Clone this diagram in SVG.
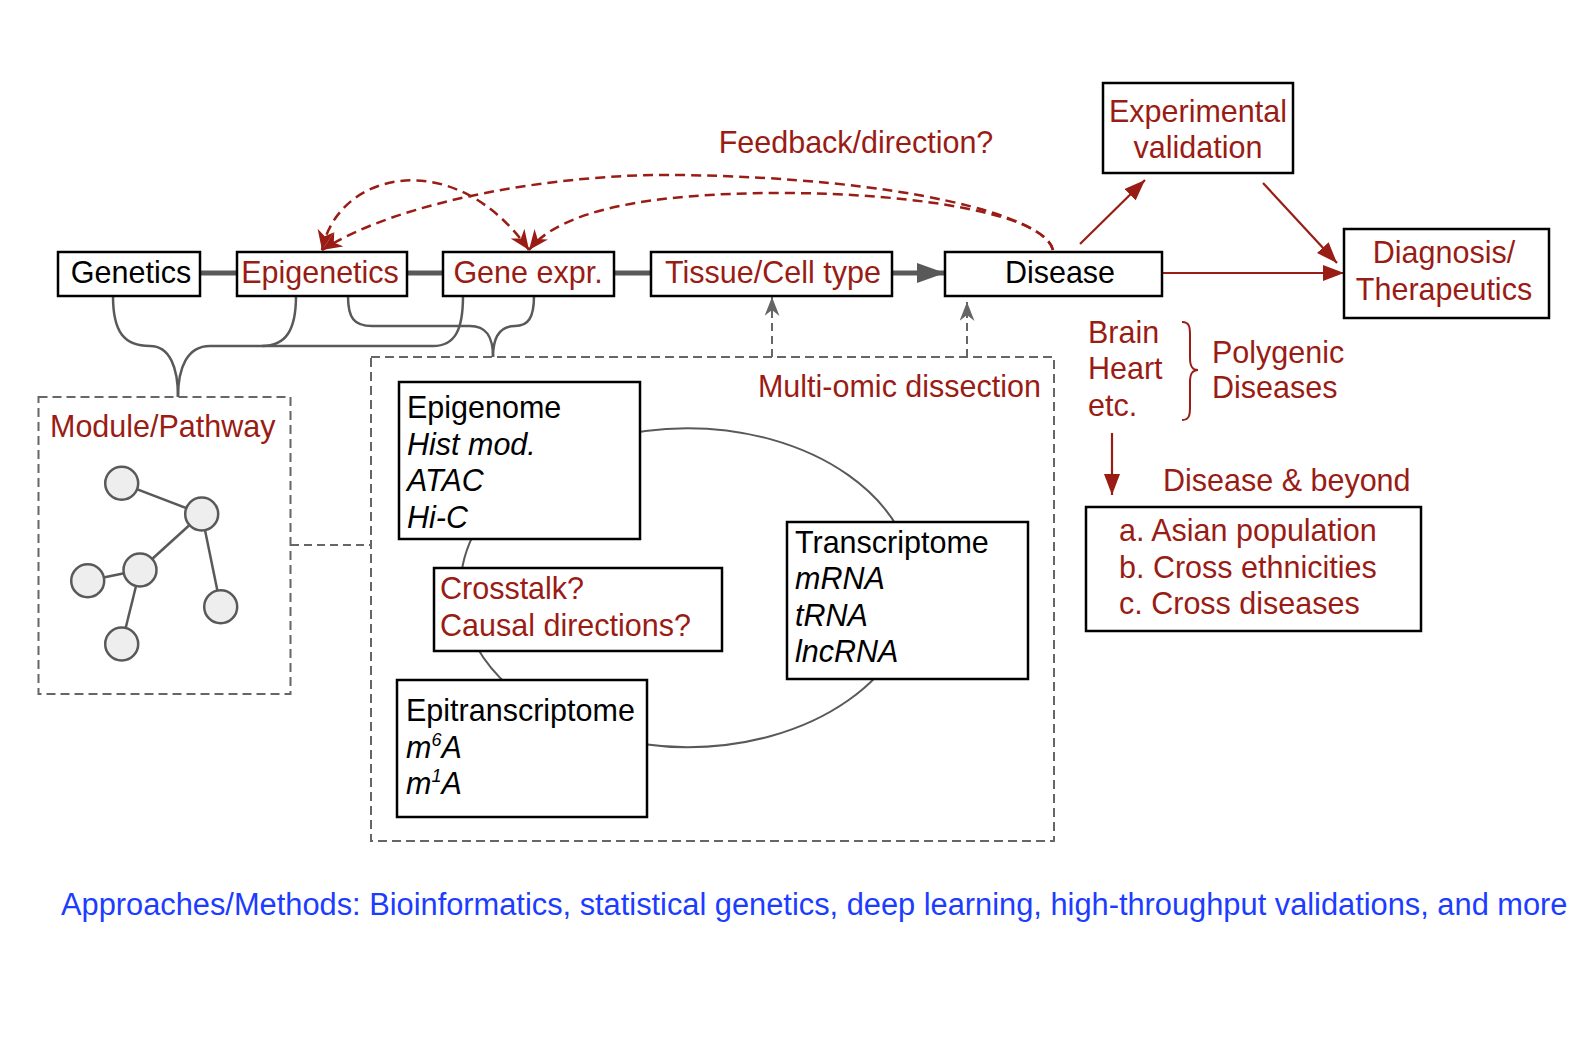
<svg xmlns="http://www.w3.org/2000/svg" width="1592" height="1050" viewBox="0 0 1592 1050">
<style>
  text { font-family: "Liberation Sans", Arial, sans-serif; font-size: 30.5px; }
  .red { fill: #991c15; }
  .blk { fill: #000; }
  .blue { fill: #1c3cff; font-size: 30.8px; }
  .it { font-style: italic; }
  .mid { text-anchor: middle; }
  .box { fill: #fff; stroke: #000; stroke-width: 2.5; }
  .dbox { fill: none; stroke: #666; stroke-width: 2; stroke-dasharray: 9 5; }
  .thick { stroke: #595959; stroke-width: 5; fill: none; }
  .brace { stroke: #595959; stroke-width: 2.5; fill: none; }
  .rdash { stroke: #991c15; stroke-width: 2.5; fill: none; stroke-dasharray: 10 6; }
  .gdash { stroke: #666; stroke-width: 2; fill: none; stroke-dasharray: 8 5; }
  .rline { stroke: #991c15; stroke-width: 2.2; fill: none; }
  .node { fill: #eeeeee; stroke: #595959; stroke-width: 2.5; }
  .edge { stroke: #595959; stroke-width: 2.5; }
</style>
<defs>
  <marker id="redTri" markerUnits="userSpaceOnUse" viewBox="0 0 21 16" refX="21" refY="8" markerWidth="21" markerHeight="16" orient="auto">
    <path d="M0,0 L21,8 L0,16 Z" fill="#991c15"/>
  </marker>
  <marker id="grayTri" markerUnits="userSpaceOnUse" viewBox="0 0 28 20" refX="28" refY="10" markerWidth="28" markerHeight="20" orient="auto">
    <path d="M0,0 L28,10 L0,20 Z" fill="#595959"/>
  </marker>
  <marker id="redStealth" markerUnits="userSpaceOnUse" viewBox="0 0 20 17" refX="20" refY="8.5" markerWidth="20" markerHeight="17" orient="auto-start-reverse">
    <path d="M0,0 L20,8.5 L0,17 L6,8.5 Z" fill="#991c15"/>
  </marker>
  <marker id="grayStealth" markerUnits="userSpaceOnUse" viewBox="0 0 19 15" refX="19" refY="7.5" markerWidth="19" markerHeight="15" orient="auto">
    <path d="M0,0 L19,7.5 L0,15 L6,7.5 Z" fill="#666"/>
  </marker>
</defs>
<rect width="1592" height="1050" fill="#fff"/>

<g id="connectors">
  <!-- main chain -->
  <line class="thick" x1="200" y1="273" x2="237" y2="273"/>
  <line class="thick" x1="407" y1="273" x2="443" y2="273"/>
  <line class="thick" x1="614" y1="273" x2="651" y2="273"/>
  <line class="thick" x1="892" y1="273" x2="945" y2="273" marker-end="url(#grayTri)"/>
  <!-- left brace to Module/Pathway -->
  <path class="brace" d="M113,296 C113,332 124,346 150,346 C170,346 178,368 178,397"/>
  <path class="brace" d="M178,397 C178,368 187,346 210,346 L433,346 C455,346 463,330 463,296"/>
  <path class="brace" d="M296,296 C296,330 286,346 262,346"/>
  <!-- right brace to Multi-omic -->
  <path class="brace" d="M348,296 C348,318 354,326 372,326 L470,326 C486,326 493,336 493,357"/>
  <path class="brace" d="M534,296 C534,318 528,326 515,326 C500,326 493,336 493,357"/>
  <!-- feedback dashed curves -->
  <path class="rdash" d="M1053,250 C1045,215 900,178 680,175 C560,173 400,200 322,250" marker-end="url(#redStealth)"/>
  <path class="rdash" d="M1053,250 C1045,215 920,193 780,193 C650,193 560,210 529,250" marker-end="url(#redStealth)"/>
  <path class="rdash" d="M322,250 C338,170 455,145 529,250" marker-start="url(#redStealth)" marker-end="url(#redStealth)"/>
  <!-- outcome arrows -->
  <line class="rline" x1="1162" y1="273" x2="1344" y2="273" marker-end="url(#redTri)"/>
  <line class="rline" x1="1080" y1="244" x2="1145" y2="180" marker-end="url(#redTri)"/>
  <line class="rline" x1="1263" y1="183" x2="1337" y2="263" marker-end="url(#redTri)"/>
  <line class="rline" x1="1112" y1="433" x2="1112" y2="495" marker-end="url(#redTri)"/>
  <!-- multi-omic up arrows -->
  <line class="gdash" x1="772" y1="357" x2="772" y2="297" marker-end="url(#grayStealth)"/>
  <line class="gdash" x1="967" y1="357" x2="967" y2="302" marker-end="url(#grayStealth)"/>
  <!-- module to multi-omic link -->
  <line class="gdash" x1="291" y1="545" x2="371" y2="545"/>
  <!-- polygenic brace -->
  <path d="M1182,322 C1190,322 1190,328 1190,336 L1190,358 C1190,366 1192,370 1198,370 C1192,370 1190,374 1190,382 L1190,406 C1190,414 1190,420 1182,420" fill="none" stroke="#991c15" stroke-width="2"/>
</g>

<g id="genetics">
  <rect class="box" x="58" y="252" width="142" height="44"/>
  <text class="blk mid" x="131" y="283">Genetics</text>
</g>
<g id="epigenetics">
  <rect class="box" x="237" y="252" width="170" height="44"/>
  <text class="red mid" x="320" y="283">Epigenetics</text>
</g>
<g id="gene-expr">
  <rect class="box" x="443" y="252" width="171" height="44"/>
  <text class="red mid" x="528" y="283">Gene expr.</text>
</g>
<g id="tissue">
  <rect class="box" x="651" y="252" width="241" height="44"/>
  <text class="red mid" x="773" y="283">Tissue/Cell type</text>
</g>
<g id="disease">
  <rect class="box" x="945" y="252" width="217" height="44"/>
  <text class="blk mid" x="1060" y="283">Disease</text>
</g>
<g id="experimental-validation">
  <rect class="box" x="1103" y="83" width="190" height="90"/>
  <text class="red mid" x="1198" y="122">Experimental</text>
  <text class="red mid" x="1198" y="158">validation</text>
</g>
<g id="diagnosis">
  <rect class="box" x="1344" y="229" width="205" height="89"/>
  <text class="red mid" x="1444" y="263">Diagnosis/</text>
  <text class="red mid" x="1444" y="300">Therapeutics</text>
</g>
<g id="feedback-label">
  <text class="red mid" x="856" y="153">Feedback/direction?</text>
</g>
<g id="tissues-label">
  <text class="red" x="1088" y="343">Brain</text>
  <text class="red" x="1088" y="379">Heart</text>
  <text class="red" x="1088" y="416">etc.</text>
  <text class="red" x="1212" y="363">Polygenic</text>
  <text class="red" x="1212" y="398">Diseases</text>
</g>
<g id="disease-beyond">
  <text class="red" x="1163" y="491">Disease &amp; beyond</text>
  <rect class="box" x="1086" y="507" width="335" height="124"/>
  <text class="red" x="1119" y="541">a. Asian population</text>
  <text class="red" x="1119" y="578">b. Cross ethnicities</text>
  <text class="red" x="1119" y="614">c. Cross diseases</text>
</g>
<g id="module-pathway">
  <rect class="dbox" x="38.5" y="397" width="252" height="297"/>
  <text class="red" x="50" y="437">Module/Pathway</text>
  <line class="edge" x1="121.7" y1="483.3" x2="201.7" y2="514"/>
  <line class="edge" x1="201.7" y1="514" x2="140" y2="570"/>
  <line class="edge" x1="201.7" y1="514" x2="220.7" y2="606.7"/>
  <line class="edge" x1="140" y1="570" x2="87.7" y2="580.7"/>
  <line class="edge" x1="140" y1="570" x2="121.7" y2="644"/>
  <circle class="node" cx="121.7" cy="483.3" r="16.5"/>
  <circle class="node" cx="201.7" cy="514" r="16.5"/>
  <circle class="node" cx="140" cy="570" r="16.5"/>
  <circle class="node" cx="87.7" cy="580.7" r="16.5"/>
  <circle class="node" cx="220.7" cy="606.7" r="16.5"/>
  <circle class="node" cx="121.7" cy="644" r="16.5"/>
</g>
<g id="multi-omic">
  <rect class="dbox" x="371" y="357" width="683" height="484"/>
  <text class="red" x="1041" y="397" text-anchor="end">Multi-omic dissection</text>
  <ellipse cx="687.5" cy="587.7" rx="227" ry="159.5" fill="none" stroke="#595959" stroke-width="2"/>
</g>
<g id="epigenome">
  <rect class="box" x="399" y="382" width="241" height="157"/>
  <text class="blk" x="407" y="418">Epigenome</text>
  <text class="blk it" x="407" y="455">Hist mod.</text>
  <text class="blk it" x="407" y="491">ATAC</text>
  <text class="blk it" x="407" y="528">Hi-C</text>
</g>
<g id="transcriptome">
  <rect class="box" x="787" y="522" width="241" height="157"/>
  <text class="blk" x="795" y="553">Transcriptome</text>
  <text class="blk it" x="795" y="589">mRNA</text>
  <text class="blk it" x="795" y="626">tRNA</text>
  <text class="blk it" x="795" y="662">lncRNA</text>
</g>
<g id="crosstalk">
  <rect class="box" x="434" y="568" width="288" height="83"/>
  <text class="red" x="440" y="599">Crosstalk?</text>
  <text class="red" x="440" y="636">Causal directions?</text>
</g>
<g id="epitranscriptome">
  <rect class="box" x="397" y="680" width="250" height="137"/>
  <text class="blk" x="406" y="721">Epitranscriptome</text>
  <text class="blk it" x="406" y="758">m<tspan font-size="18" dy="-12">6</tspan><tspan dy="12">A</tspan></text>
  <text class="blk it" x="406" y="794">m<tspan font-size="18" dy="-12">1</tspan><tspan dy="12">A</tspan></text>
</g>
<g id="methods">
  <text class="blue" x="61" y="915">Approaches/Methods: Bioinformatics, statistical genetics, deep learning, high-throughput validations, and more</text>
</g>
</svg>
